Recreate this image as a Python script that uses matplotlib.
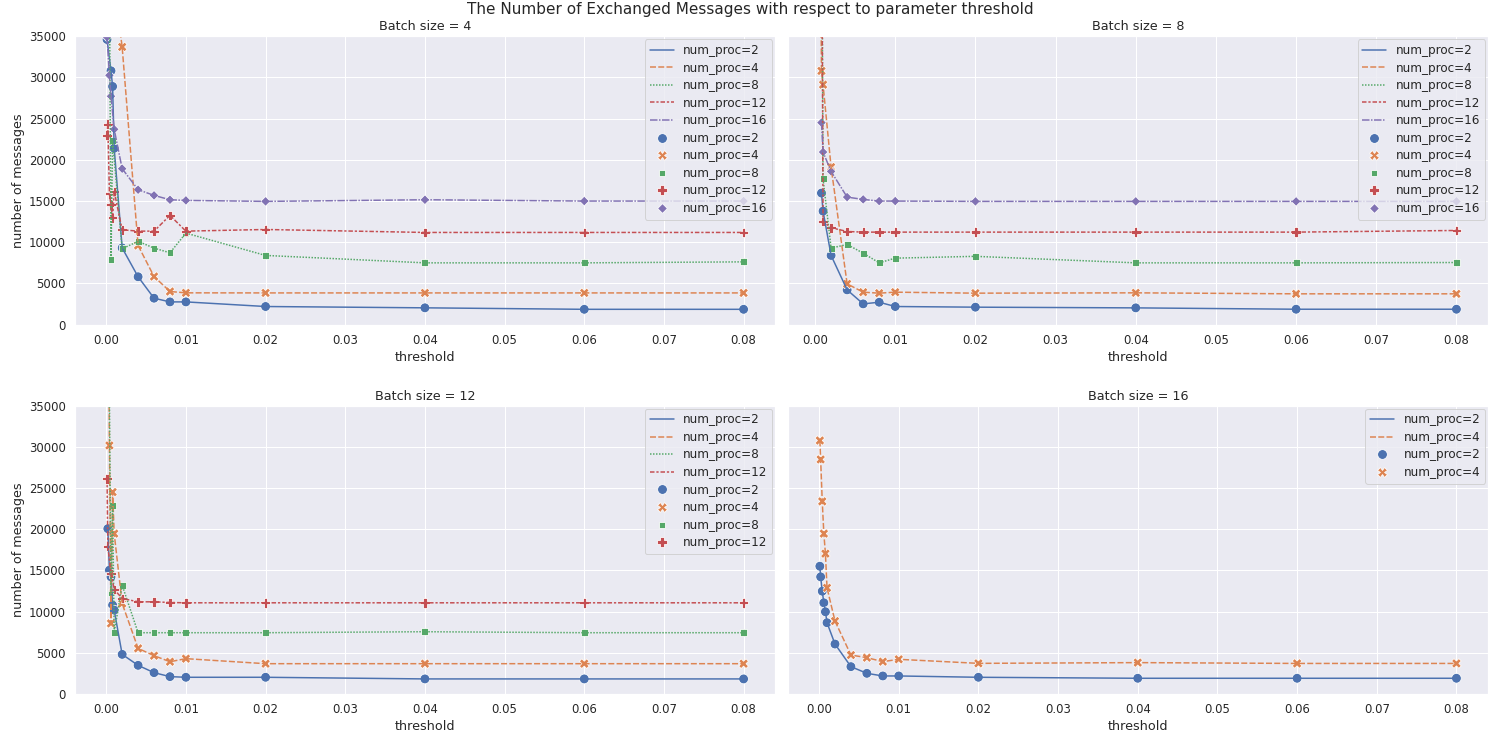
import numpy as np
import pandas as pd
import matplotlib
matplotlib.use('Agg')
import matplotlib.pyplot as plt
import seaborn as sns

nan = np.nan

thresholds = [0.0001, 0.0002, 0.0004, 0.0006, 0.0008, 0.001, 0.002, 0.004,
              0.006, 0.008, 0.01, 0.02, 0.04, 0.06, 0.08]

# batch size 4
b4_np2 = [34600, nan, nan, 30800, 28900, 21400, 9300, 5800, 3200, 2750, 2750, 2190, 2030, 1850, 1850]
b4_np4 = [nan, nan, nan, nan, nan, 41000, 33700, 9600, 5830, 4010, 3850, 3840, 3840, 3840, 3840]
b4_np8 = [nan, nan, 42000, 7900, 22300, nan, 9200, 10100, 9280, 8710, 11100, 8390, 7490, 7490, 7610]
b4_np12 = [22970, 24300, 15880, 14540, 12960, 16160, 11500, 11340, 11340, 13250, 11340, 11540, 11180, 11180, 11180]
b4_np16 = [34900, nan, 30260, 27710, nan, 23700, 18920, 16370, 15680, 15150, 15070, 14950, 15150, 14990, 14990]

# batch size 8
b8_np2 = [nan, nan, nan, nan, 15960, 13770, 8390, 4210, 2510, 2710, 2190, 2110, 2025, 1860, 1860]
b8_np4 = [nan, nan, nan, 60000, 30790, 29120, 19120, 4940, 3930, 3810, 3930, 3810, 3850, 3730, 3730]
b8_np8 = [nan, nan, nan, nan, 60000, 17700, 9280, 9720, 8670, 7490, 8060, 8280, 7490, 7490, 7530]
b8_np12 = [nan, nan, nan, nan, 60000, 12520, 11750, 11300, 11220, 11220, 11220, 11220, 11220, 11220, 11420]
b8_np16 = [nan, nan, nan, nan, 24510, 20940, 18590, 15470, 15190, 14990, 14990, 14950, 14950, 14950, 14950]

# batch size 12
b12_np2 = [nan, 20060, 15020, 14210, 10780, 10170, 4800, 3470, 2580, 2100, 2020, 2020, 1820, 1820, 1820]
b12_np4 = [nan, 60000, 30160, 8560, 24500, 19460, 10980, 5530, 4640, 3910, 4280, 3670, 3670, 3670, 3670]
b12_np8 = [nan, 60000, nan, 12270, 22890, 7470, 13200, 7430, 7430, 7430, 7430, 7430, 7550, 7430, 7430]
b12_np12 = [26120, 17920, nan, 14610, nan, 12680, 11590, 11180, 11180, 11100, 11060, 11060, 11060, 11060, 11060]

# batch size 16
b16_np2 = [15500, 14210, 12470, 11060, 9970, 8640, 6055, 3310, 2500, 2180, 2180, 2020, 1900, 1900, 1900]
b16_np4 = [30760, 28460, 23370, 19460, 17030, 12880, 8840, 4720, 4400, 3920, 4200, 3710, 3800, 3700, 3700]

panels = [
    (4, {'num_proc=2': b4_np2, 'num_proc=4': b4_np4, 'num_proc=8': b4_np8,
         'num_proc=12': b4_np12, 'num_proc=16': b4_np16}),
    (8, {'num_proc=2': b8_np2, 'num_proc=4': b8_np4, 'num_proc=8': b8_np8,
         'num_proc=12': b8_np12, 'num_proc=16': b8_np16}),
    (12, {'num_proc=2': b12_np2, 'num_proc=4': b12_np4, 'num_proc=8': b12_np8,
          'num_proc=12': b12_np12}),
    (16, {'num_proc=2': b16_np2, 'num_proc=4': b16_np4}),
]

sns.set_theme(font_scale=1.06)
plt.rcParams['legend.loc'] = 'upper right'
plt.rcParams['legend.fontsize'] = 12
plt.rcParams['legend.labelspacing'] = 0.38
plt.rcParams['legend.borderaxespad'] = 0.25

fig, axes = plt.subplots(2, 2, sharey=True, figsize=(1489 / 72, 739 / 72), dpi=72)

for ax, (batch, series) in zip(axes.flat, panels):
    df = pd.DataFrame(series, index=pd.Index(thresholds, name='threshold'))
    sns.lineplot(data=df, ax=ax)
    sns.scatterplot(data=df, s=95, ax=ax)
    ax.set_title('Batch size = %d' % batch)
    ax.set_ylim(0, 35000)

axes[0, 0].set_ylabel('number of messages')
axes[1, 0].set_ylabel('number of messages')
axes[0, 1].set_ylabel('')
axes[1, 1].set_ylabel('')

fig.suptitle('The Number of Exchanged Messages with respect to parameter threshold', x=0.504, y=0.997)
fig.subplots_adjust(left=0.0505, right=0.9995, top=0.951, bottom=0.061, wspace=0.018, hspace=0.281)

plt.savefig('out.png', dpi=72)
